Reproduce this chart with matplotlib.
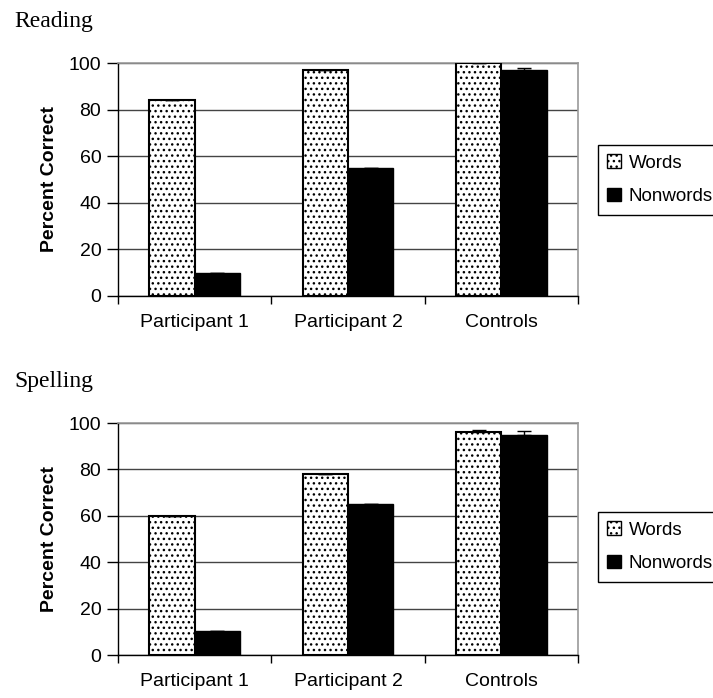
import numpy as np
import matplotlib
matplotlib.use("Agg")
import matplotlib.pyplot as plt
from matplotlib.patches import Patch

plt.rcParams["font.family"] = ["Liberation Sans", "DejaVu Sans"]
plt.rcParams["hatch.linewidth"] = 1.0

groups = ["Participant 1", "Participant 2", "Controls"]
series = ["Words", "Nonwords"]

reading_words = [84, 97, 100]
reading_nonwords = [10, 55, 97]
reading_words_err = [0, 0, 0]
reading_nonwords_err = [0, 0, 0.8]

spelling_words = [60, 78, 96]
spelling_nonwords = [10.5, 65, 95]
spelling_words_err = [0, 0, 1.0]
spelling_nonwords_err = [0, 0, 1.5]

y_ticks = [0, 20, 40, 60, 80, 100]

W, H = 713, 698
fig = plt.figure(figsize=(W / 100, H / 100), dpi=100)


def draw_panel(rect, title, words, nonwords, words_err, nonwords_err, legend_y):
    ax = fig.add_axes(rect)
    x = np.arange(len(groups))
    bw = 0.295
    ax.bar(x - bw / 2, words, bw, color="white", edgecolor="black",
           hatch="...", linewidth=1.5, zorder=3)
    ax.bar(x + bw / 2, nonwords, bw, color="black", edgecolor="black",
           linewidth=1.0, zorder=3)
    ax.errorbar(x - bw / 2, words, yerr=[np.zeros(3), words_err], fmt="none",
                ecolor="black", elinewidth=1, capsize=5, zorder=4)
    ax.errorbar(x + bw / 2, nonwords, yerr=[np.zeros(3), nonwords_err], fmt="none",
                ecolor="black", elinewidth=1, capsize=5, zorder=4)

    ax.set_xlim(-0.5, 2.5)
    ax.set_ylim(0, 100)
    ax.set_yticks(y_ticks)
    ax.set_xticks([-0.5, 0.5, 1.5, 2.5])
    ax.set_xticks(x, minor=True)
    ax.set_xticklabels([])
    ax.set_xticklabels(groups, minor=True)
    ax.tick_params(axis="x", which="major", length=6, direction="out", width=1)
    ax.tick_params(axis="x", which="minor", length=0, pad=13, labelsize=14)
    ax.tick_params(axis="y", length=8, direction="out", width=1, labelsize=14, pad=4)
    ax.yaxis.grid(True, color="#444444", linewidth=1, zorder=0)
    ax.set_axisbelow(True)
    for side in ["top", "right"]:
        ax.spines[side].set_color("#999999")
        ax.spines[side].set_linewidth(1.2)
    for side in ["left", "bottom"]:
        ax.spines[side].set_color("black")
        ax.spines[side].set_linewidth(1)
    ax.set_ylabel("Percent Correct", fontsize=14, fontweight="bold", labelpad=8)

    fig.text(14 / W, rect[1] + rect[3] + 42 / H, title, family="Liberation Serif",
             fontsize=17, ha="left", va="center")

    handles = [Patch(facecolor="white", edgecolor="black", hatch="...", linewidth=1),
               Patch(facecolor="black", edgecolor="black")]
    fig.legend(handles, series, loc="upper left",
               bbox_to_anchor=(598 / W, legend_y), fontsize=13.5, frameon=True,
               fancybox=False, edgecolor="black", framealpha=1,
               handlelength=0.75, handleheight=0.75, handletextpad=0.4,
               borderpad=0.5, labelspacing=0.85, borderaxespad=0)
    return ax


draw_panel([118 / W, 1 - 296 / H, 460 / W, 233 / H], "Reading",
           reading_words, reading_nonwords, reading_words_err, reading_nonwords_err,
           1 - 145 / H)
draw_panel([118 / W, 1 - 655 / H, 460 / W, 232 / H], "Spelling",
           spelling_words, spelling_nonwords, spelling_words_err, spelling_nonwords_err,
           1 - 512 / H)

fig.savefig("out.png", dpi=100)
